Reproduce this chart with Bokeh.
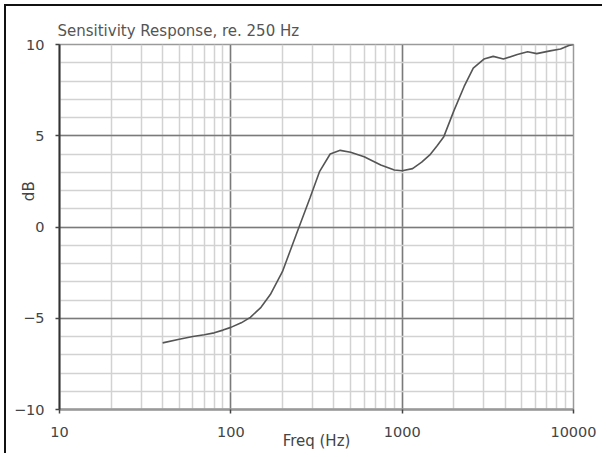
from bokeh.plotting import figure
from bokeh.models import LogTicker, SingleIntervalTicker
from bokeh.embed import file_html
from bokeh.resources import INLINE

freq_hz = [40, 50, 60, 70, 80, 90, 100, 115, 130, 150, 170, 200, 240, 290, 330,
           380, 435, 500, 600, 750, 900, 1000, 1150, 1300, 1450, 1600, 1750, 2000,
           2300, 2600, 3000, 3400, 3900, 4700, 5400, 6100, 7300, 8400, 9400, 10000]
sens_db = [-6.35, -6.15, -6.0, -5.9, -5.8, -5.65, -5.5, -5.25, -4.95, -4.4, -3.7,
           -2.45, -0.45, 1.6, 3.05, 4.0, 4.2, 4.1, 3.85, 3.4, 3.12, 3.08, 3.2, 3.55,
           3.95, 4.45, 4.95, 6.35, 7.7, 8.7, 9.2, 9.35, 9.2, 9.45, 9.6, 9.5, 9.65,
           9.75, 9.95, 10.0]
x_ticks = [10, 100, 1000, 10000]

FONT = "DejaVu Sans"

p = figure(x_axis_type="log", x_range=(10, 10000), y_range=(-10, 10),
           width=598, height=449,
           min_border_left=53, min_border_right=31, min_border_top=38, min_border_bottom=46,
           output_backend="svg", toolbar_location=None,
           title="Sensitivity Response, re. 250 Hz",
           x_axis_label="Freq (Hz)",
           y_axis_label="\u00a0" * 15 + "dB")
p.styles = {"border-left": "2px solid #111", "border-top": "2px solid #111",
            "margin-left": "4px", "margin-top": "4px"}

p.title.text_font = FONT
p.title.text_font_size = "15px"
p.title.text_font_style = "normal"
p.title.text_color = "#555555"
p.title.align = "left"
p.title.offset = -2
p.title.standoff = 10

p.outline_line_color = "#9a9a9a"
p.outline_line_width = 1.5

p.xaxis.ticker = LogTicker(num_minor_ticks=10, desired_num_ticks=4)
p.xaxis.major_label_overrides = {v: str(v) for v in x_ticks}
p.yaxis.ticker = SingleIntervalTicker(interval=5, num_minor_ticks=5)

for ax in (p.xaxis[0], p.yaxis[0]):
    ax.major_label_text_font = FONT
    ax.major_label_text_font_size = "14.5px"
    ax.major_label_text_color = "#444444"
    ax.axis_label_text_font = FONT
    ax.axis_label_text_font_size = "15px"
    ax.axis_label_text_font_style = "normal"
    ax.axis_label_text_color = "#444444"
    ax.minor_tick_line_color = None
    ax.major_tick_in = 0
    ax.major_tick_out = 4
    ax.major_tick_line_color = "#444444"
    ax.major_tick_line_width = 1.5

p.yaxis.axis_line_color = "#333333"
p.yaxis.axis_line_width = 2
p.xaxis.axis_line_color = "#999999"
p.xaxis.axis_line_width = 2.5
p.xaxis.major_label_standoff = 13
p.yaxis.major_label_standoff = 11
p.xaxis.axis_label_standoff = -8
p.yaxis.axis_label_standoff = -27

p.xgrid.ticker = LogTicker(num_minor_ticks=10)
p.ygrid.ticker = SingleIntervalTicker(interval=5, num_minor_ticks=5)
for g in (p.xgrid[0], p.ygrid[0]):
    g.grid_line_color = "#7a7a7a"
    g.grid_line_width = 1.5
    g.minor_grid_line_color = "#d2d2d2"
    g.minor_grid_line_width = 1.5

p.line(freq_hz, sens_db, line_color="#555555", line_width=1.6)

open("out.html", "w").write(file_html(p, INLINE))
